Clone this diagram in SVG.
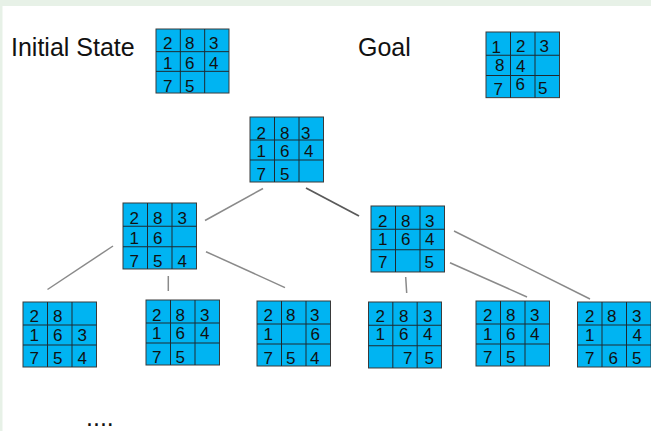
<svg xmlns="http://www.w3.org/2000/svg" xmlns:xlink="http://www.w3.org/1999/xlink" width="651" height="431" viewBox="0 0 651 431">
<style>
.box{fill:#00b4f2;stroke:#3a3a3a;stroke-width:1}
.gl{fill:none;stroke:#1e2a30;stroke-width:1}
.d{font-family:"Liberation Sans",Arial,sans-serif;font-size:17px;fill:#111}
.t{font-family:"Liberation Sans",Arial,sans-serif;font-size:25px;fill:#111}
.c{fill:none;stroke:#8a8a8a;stroke-width:1.5}
.c2{fill:none;stroke:#5a5a5a;stroke-width:1.8}
</style>
<defs>
<g id="pz"><rect width="73.5" height="65" class="box"/><path d="M24.5 0V65M49 0V65M0 23H73.5M0 43H73.5" class="gl"/></g>
</defs>
<rect width="651" height="431" fill="#ffffff"/>
<rect width="651" height="6" fill="#e7f1e7"/>
<rect width="2.5" height="431" fill="#e7f1e7"/>

<text class="t" x="11" y="55.7" font-size="24.7">Initial State</text>
<text class="t" x="358" y="55.7">Goal</text>
<text class="t" x="86" y="426" font-size="27">....</text>

<g id="connectors">
<line class="c" x1="205" y1="220.5" x2="263" y2="188.5"/>
<line class="c2" x1="306" y1="188" x2="359" y2="216"/>
<line class="c" x1="47.5" y1="289.5" x2="113" y2="246"/>
<line class="c" x1="168.3" y1="276" x2="168.3" y2="291"/>
<line class="c" x1="206" y1="251.7" x2="285" y2="287.6"/>
<line class="c" x1="405.7" y1="277" x2="406.7" y2="293"/>
<line class="c" x1="450" y1="262.7" x2="527" y2="297"/>
<line class="c" x1="454" y1="231" x2="590" y2="299"/>
</g>

<g id="initial">
<use href="#pz" x="156" y="29" transform="translate(156 29) scale(0.993 0.985) translate(-156 -29)"/>
<text class="d" x="163" y="48.5">2</text><text class="d" x="185" y="48.5">8</text><text class="d" x="209" y="48.5">3</text>
<text class="d" x="163" y="68.5">1</text><text class="d" x="185" y="68.5">6</text><text class="d" x="209" y="68.5">4</text>
<text class="d" x="163" y="91.5">7</text><text class="d" x="185" y="91.5">5</text>
</g>

<g id="goal">
<use href="#pz" x="486" y="32" transform="translate(486 32) scale(1 1.01) translate(-486 -32)"/>
<text class="d" x="491.5" y="53.3">1</text><text class="d" x="516" y="52.3">2</text><text class="d" x="539.5" y="51.7">3</text>
<text class="d" x="495" y="70.7">8</text><text class="d" x="516" y="71.7">4</text>
<text class="d" x="493.5" y="95">7</text><text class="d" x="515.5" y="90">6</text><text class="d" x="538" y="94">5</text>
</g>

<g id="root">
<use href="#pz" x="250" y="117"/>
<text class="d" x="256.5" y="138.5">2</text><text class="d" x="280" y="138.5">8</text><text class="d" x="301" y="138.5">3</text>
<text class="d" x="256.5" y="157">1</text><text class="d" x="280" y="157">6</text><text class="d" x="304" y="157">4</text>
<text class="d" x="256.5" y="180">7</text><text class="d" x="280" y="180">5</text>
</g>

<g id="n2a">
<use href="#pz" x="123" y="203" transform="translate(123 203) scale(1 1.015) translate(-123 -203)"/>
<text class="d" x="129.5" y="224">2</text><text class="d" x="153" y="224">8</text><text class="d" x="177.5" y="224">3</text>
<text class="d" x="129.5" y="243.5">1</text><text class="d" x="153" y="243.5">6</text>
<text class="d" x="129.5" y="266.5">7</text><text class="d" x="153" y="266.5">5</text><text class="d" x="177.5" y="266.5">4</text>
</g>

<g id="n2b">
<use href="#pz" x="371" y="206" transform="translate(371 206) scale(1 1.015) translate(-371 -206)"/>
<text class="d" x="378" y="226.5">2</text><text class="d" x="401" y="226.5">8</text><text class="d" x="425" y="226.5">3</text>
<text class="d" x="378" y="245">1</text><text class="d" x="401" y="245">6</text><text class="d" x="425" y="245">4</text>
<text class="d" x="378" y="267.5">7</text><text class="d" x="424.5" y="267.5">5</text>
</g>

<g id="n3a">
<use href="#pz" x="23" y="302"/>
<text class="d" x="29.5" y="321.5">2</text><text class="d" x="53" y="321.5">8</text>
<text class="d" x="29.5" y="341">1</text><text class="d" x="53" y="341">6</text><text class="d" x="77.5" y="341">3</text>
<text class="d" x="29.5" y="364">7</text><text class="d" x="53" y="364">5</text><text class="d" x="77.5" y="364">4</text>
</g>

<g id="n3b">
<use href="#pz" x="146" y="300"/>
<text class="d" x="152" y="320.5">2</text><text class="d" x="175.5" y="320.5">8</text><text class="d" x="200" y="320.5">3</text>
<text class="d" x="152" y="339">1</text><text class="d" x="175.5" y="339">6</text><text class="d" x="200" y="339">4</text>
<text class="d" x="152" y="363">7</text><text class="d" x="175.5" y="363">5</text>
</g>

<g id="n3c">
<use href="#pz" x="257" y="301"/>
<text class="d" x="263.5" y="321">2</text><text class="d" x="286" y="321">8</text><text class="d" x="310" y="321">3</text>
<text class="d" x="263.5" y="340">1</text><text class="d" x="310.5" y="340">6</text>
<text class="d" x="263.5" y="363.5">7</text><text class="d" x="286" y="363.5">5</text><text class="d" x="310" y="363.5">4</text>
</g>

<g id="n3d">
<use href="#pz" x="368.5" y="302" transform="translate(368.5 302) scale(0.993 1.015) translate(-368.5 -302)"/>
<text class="d" x="375.5" y="321.5">2</text><text class="d" x="399" y="321.5">8</text><text class="d" x="423" y="321.5">3</text>
<text class="d" x="375.5" y="340">1</text><text class="d" x="399" y="340">6</text><text class="d" x="423" y="340">4</text>
<text class="d" x="403" y="364">7</text><text class="d" x="424.5" y="364">5</text>
</g>

<g id="n3e">
<use href="#pz" x="476" y="301"/>
<text class="d" x="483" y="321">2</text><text class="d" x="506" y="321">8</text><text class="d" x="530" y="321">3</text>
<text class="d" x="483" y="339.5">1</text><text class="d" x="506" y="339.5">6</text><text class="d" x="530" y="339.5">4</text>
<text class="d" x="483" y="362.5">7</text><text class="d" x="506" y="362.5">5</text>
</g>

<g id="n3f">
<use href="#pz" x="577.5" y="302"/>
<text class="d" x="585" y="321.5">2</text><text class="d" x="607" y="321.5">8</text><text class="d" x="632" y="321.5">3</text>
<text class="d" x="585" y="340.5">1</text><text class="d" x="632.5" y="340.5">4</text>
<text class="d" x="585" y="363.5">7</text><text class="d" x="608.5" y="363.5">6</text><text class="d" x="632" y="363.5">5</text>
</g>
</svg>
